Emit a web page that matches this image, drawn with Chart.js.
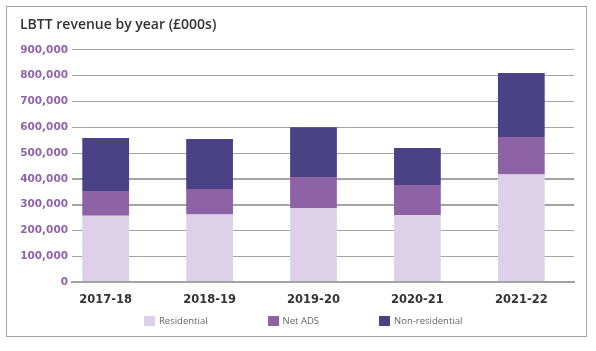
<!DOCTYPE html>
<html>
<head>
<meta charset="utf-8">
<script src="https://cdn.jsdelivr.net/npm/chart.js@4/dist/chart.umd.min.js"></script>
<style>
  body { margin: 0; background: #fff; }
  #frame {
    position: absolute; left: 6px; top: 6px; width: 581px; height: 331px;
    box-sizing: border-box; border: 1px solid #a3a3a3;
  }
  #chart { position: absolute; left: 0; top: 0; }
  #legend {
    position: absolute; left: 144px; top: 314px;
    display: flex; align-items: center; gap: 60px;
    font-family: 'Open Sans', sans-serif; font-size: 9.5px; color: #666;
  }
  #legend .item { display: flex; align-items: center; }
  #legend .box { width: 11px; height: 10px; margin-right: 4px; }
</style>
</head>
<body>
<div id="frame"></div>
<canvas id="chart" width="596" height="351"></canvas>
<div id="legend"></div>
<script>
const years = ['2017-18', '2018-19', '2019-20', '2020-21', '2021-22'];
const residential = [257000, 262000, 286000, 260000, 417000];
const netADS = [96000, 98000, 121000, 116000, 145000];
const nonResidential = [205000, 194000, 193000, 143000, 248000];

const toPoints = (values) => values.map((v, i) => ({ x: i, y: v }));

const ctx = document.getElementById('chart').getContext('2d');
const chart = new Chart(ctx, {
    type: 'bar',
    data: {
        datasets: [
            { label: 'Residential', data: toPoints(residential), backgroundColor: '#dcd1e8' },
            { label: 'Net ADS', data: toPoints(netADS), backgroundColor: '#8e63a5' },
            { label: 'Non-residential', data: toPoints(nonResidential), backgroundColor: '#4a4284' }
        ]
    },
    options: {
        responsive: false,
        animation: false,
        barPercentage: 0.45,
        categoryPercentage: 1,
        layout: { padding: { left: 20, right: 22, top: 0, bottom: 0 } },
        plugins: {
            legend: { display: false },
            tooltip: { enabled: false },
            title: {
                display: true,
                text: 'LBTT revenue by year (£000s)',
                align: 'start',
                color: '#333',
                font: { family: 'Open Sans', size: 14, weight: '600' },
                padding: { top: 17, bottom: 16 }
            }
        },
        scales: {
            x: {
                type: 'linear',
                stacked: true,
                offset: false,
                min: -0.324,
                max: 4.507,
                grid: { display: false },
                border: { display: true, color: '#a3a3a3', width: 2 },
                afterBuildTicks: (scale) => {
                    scale.ticks = years.map((_, i) => ({ value: i }));
                },
                afterFit: (scale) => { scale.height = 69; },
                ticks: {
                    padding: 3,
                    color: '#333',
                    font: { family: 'DejaVu Sans', size: 11.5, weight: 'bold' },
                    callback: (v) => years[v]
                }
            },
            y: {
                stacked: true,
                min: 0,
                max: 900000,
                border: { display: false },
                grid: {
                    color: '#a3a3a3',
                    drawTicks: false,
                    lineWidth: (c) => [0, 300000, 400000].includes(c.tick.value) ? 2 : 1
                },
                afterFit: (scale) => { scale.width = 52; },
                ticks: {
                    stepSize: 100000,
                    padding: 4,
                    color: '#9062ac',
                    font: { family: 'DejaVu Sans', size: 10.5, weight: 'bold' },
                    callback: (v) => v.toLocaleString('en-GB')
                }
            }
        }
    }
});

const legendEl = document.getElementById('legend');
chart.data.datasets.forEach((ds) => {
    const item = document.createElement('div');
    item.className = 'item';
    const box = document.createElement('span');
    box.className = 'box';
    box.style.background = ds.backgroundColor;
    const text = document.createElement('span');
    text.textContent = ds.label;
    item.appendChild(box);
    item.appendChild(text);
    legendEl.appendChild(item);
});
</script>
</body>
</html>
